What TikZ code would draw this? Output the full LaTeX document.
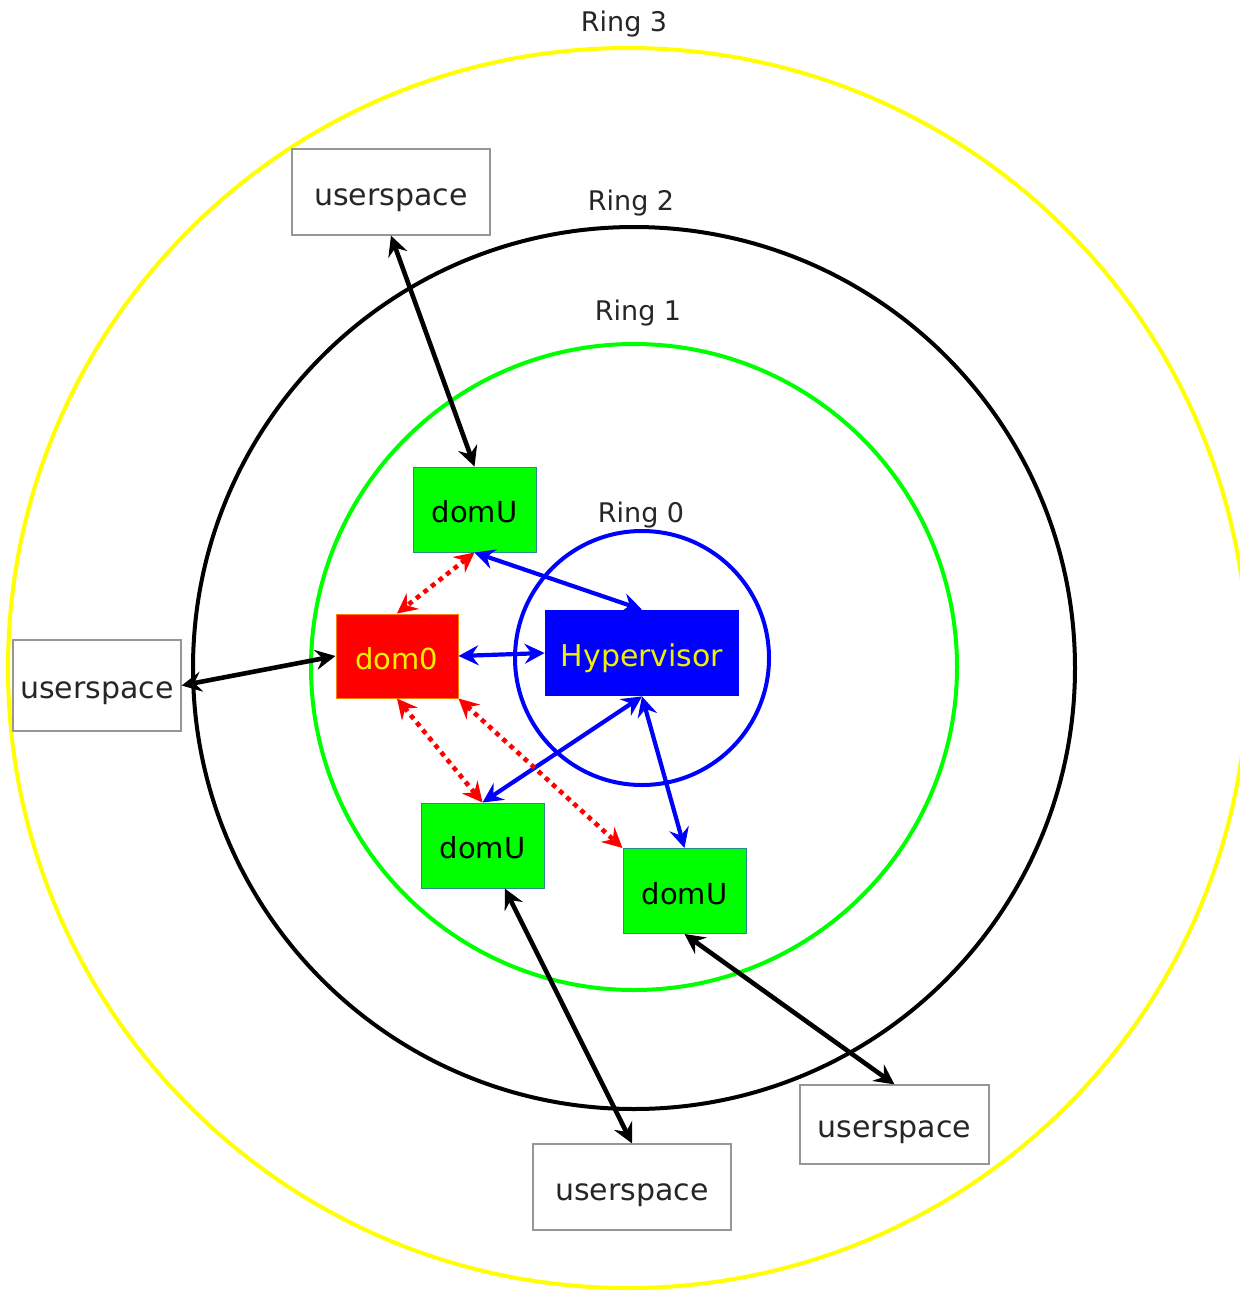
\documentclass[tikz,border=0pt]{standalone}
\usepackage{fontspec}
\setmainfont{DejaVu Sans}
\usetikzlibrary{arrows.meta,calc}
\definecolor{pgreen}{RGB}{0,255,0}
\definecolor{pyellow}{RGB}{255,255,0}
\definecolor{pred}{RGB}{255,0,0}
\definecolor{pblue}{RGB}{0,0,255}
\definecolor{txtyellow}{RGB}{240,240,0}
\definecolor{domborder}{RGB}{40,140,140}
\definecolor{usborder}{RGB}{150,150,150}
\tikzset{
  ring/.style={line width=2pt},
  ringlabel/.style={font=\fontsize{13.5}{16}\selectfont, text=black!85},
  boxtext/.style={text height=13pt, text depth=0pt},
  userbox/.style={boxtext, draw=usborder, line width=0.6pt, fill=white, font=\fontsize{15}{18}\selectfont, text=black!85, inner sep=0pt},
  dombox/.style={boxtext, draw=domborder, line width=0.5pt, fill=pgreen, font=\fontsize{14.5}{18}\selectfont, inner sep=0pt, minimum width=61.5pt, minimum height=42.5pt},
  tipshape/.tip={Stealth[length=10pt,width=10pt,inset=3.5pt]},
  blk/.style={draw=black, line width=2.3pt, tipshape-tipshape},
  blu/.style={draw=pblue, line width=2.1pt, tipshape-tipshape},
  rdot/.style={draw=pred, line width=2.3pt, dash pattern=on 2.4pt off 2.4pt, tipshape-tipshape},
}
\begin{document}
\begin{tikzpicture}[x=0.5pt,y=-0.5pt]
\useasboundingbox (0,0) rectangle (1240,1291);
\fill[white] (0,0) rectangle (1240,1291);
\begin{scope}
\clip (0,0) rectangle (1240,1291);
\draw[ring, pyellow] (628,668) circle[radius=310pt];
\end{scope}
\draw[ring, black] (634,668) circle[radius=220.5pt];
\draw[ring, pgreen] (634,667) circle[radius=161.5pt];
\draw[ring, pblue] (642,658) circle[radius=63.5pt];

\node[ringlabel] (r3) at (624,24) {Ring 3};
\node[ringlabel] (r2) at (631,203) {Ring 2};
\node[ringlabel] (r1) at (638,313) {Ring 1};
\node[ringlabel] (r0) at (641,515) {Ring 0};

\node[userbox, minimum width=99pt, minimum height=43pt] (us1) at (391,192) {userspace};
\node[userbox, minimum width=84pt, minimum height=45.5pt] (us2) at (97,685.5) {userspace};
\node[userbox, minimum width=99pt, minimum height=43pt] (us3) at (632,1187) {userspace};
\node[userbox, minimum width=94.5pt, minimum height=39.5pt] (us4) at (894.5,1124.5) {userspace};

\node[dombox] (du1) at (474.5,509.5) {domU};
\node[dombox] (du2) at (482.5,845.5) {domU};
\node[dombox] (du3) at (684.5,891) {domU};
\node[boxtext, draw=orange, line width=0.5pt, fill=pred, text=txtyellow, font=\fontsize{14.5}{18}\selectfont, inner sep=0pt, minimum width=61pt, minimum height=42pt] (dom0) at (397,656) {dom0};
\node[boxtext, fill=pblue, text=txtyellow, font=\fontsize{15}{18}\selectfont, inner sep=0pt, minimum width=97pt, minimum height=43pt] (hv) at (642,653) {Hypervisor};

% black connectors
\draw[blk] (us1.south) -- (du1.north);
\draw[blk] (us2.east) -- (dom0.west);
\draw[blk] ($(du2.south west)!0.68!(du2.south east)$) -- (us3.north);
\draw[blk] (du3.south) -- (us4.north);

% blue connectors
\draw[blu] (du1.south) -- (hv.north);
\draw[blu] (dom0.east) -- (hv.west);
\draw[blu] (hv.south) -- (du2.north);
\draw[blu] (hv.south) -- (du3.north);

% red dotted connectors
\draw[rdot] (du1.south) -- (dom0.north);
\draw[rdot] (dom0.south) -- (du2.north);
\draw[rdot] (dom0.south east) -- (du3.north west);
\end{tikzpicture}
\end{document}
